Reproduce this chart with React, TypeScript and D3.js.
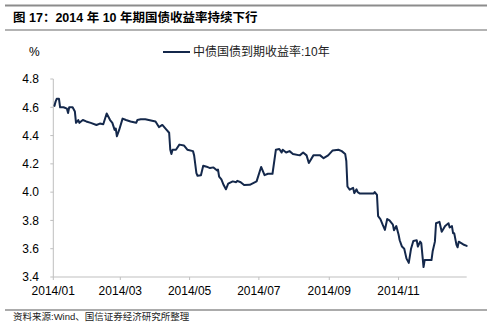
import React from "react";
import * as d3 from "d3";

const dates: string[] = [
  "2014-01-02","2014-01-03","2014-01-04","2014-01-06","2014-01-07","2014-01-10","2014-01-13","2014-01-14","2014-01-15","2014-01-18",
  "2014-01-20","2014-01-21","2014-01-23","2014-01-24","2014-01-27","2014-01-30","2014-02-03","2014-02-08","2014-02-11","2014-02-14",
  "2014-02-17","2014-02-20","2014-02-22","2014-02-24","2014-02-25","2014-02-26","2014-02-28","2014-03-03","2014-03-06","2014-03-10",
  "2014-03-15","2014-03-16","2014-03-19","2014-03-23","2014-03-26","2014-04-01","2014-04-04","2014-04-07","2014-04-10","2014-04-13",
  "2014-04-14","2014-04-15","2014-04-16","2014-04-19","2014-04-22","2014-04-26","2014-04-29","2014-05-04","2014-05-05","2014-05-07",
  "2014-05-08","2014-05-11","2014-05-13","2014-05-16","2014-05-19","2014-05-22","2014-05-25","2014-05-26","2014-05-27","2014-05-29",
  "2014-05-31","2014-06-02","2014-06-04","2014-06-08","2014-06-11","2014-06-12","2014-06-15","2014-06-18","2014-06-23","2014-06-29",
  "2014-07-03","2014-07-06","2014-07-09","2014-07-13","2014-07-16","2014-07-19","2014-07-21","2014-07-22","2014-07-25","2014-07-28",
  "2014-07-31","2014-08-06","2014-08-09","2014-08-12","2014-08-14","2014-08-18","2014-08-24","2014-08-27","2014-08-31","2014-09-04",
  "2014-09-09","2014-09-12","2014-09-15","2014-09-16","2014-09-17","2014-09-19","2014-09-22","2014-09-23","2014-09-25","2014-09-26",
  "2014-09-28","2014-10-02","2014-10-10","2014-10-11","2014-10-13","2014-10-14","2014-10-16","2014-10-18","2014-10-20","2014-10-22",
  "2014-10-24","2014-10-27","2014-10-28","2014-10-30","2014-11-01","2014-11-02","2014-11-04","2014-11-06","2014-11-08","2014-11-10",
  "2014-11-12","2014-11-14","2014-11-17","2014-11-18","2014-11-20","2014-11-21","2014-11-23","2014-11-24","2014-11-30","2014-12-01",
  "2014-12-03","2014-12-04","2014-12-07","2014-12-09","2014-12-12","2014-12-15","2014-12-16","2014-12-18","2014-12-19","2014-12-20",
  "2014-12-22","2014-12-23","2014-12-24","2014-12-28","2014-12-31"
];

const yields: number[] = [
  4.61,4.64,4.66,4.66,4.60,4.60,4.59,4.56,4.60,4.60,
  4.57,4.49,4.51,4.49,4.51,4.50,4.49,4.475,4.485,4.48,
  4.556,4.51,4.49,4.44,4.45,4.395,4.44,4.52,4.51,4.50,
  4.49,4.51,4.515,4.515,4.51,4.50,4.46,4.475,4.447,4.42,
  4.30,4.27,4.30,4.30,4.336,4.33,4.30,4.29,4.26,4.135,
  4.116,4.12,4.187,4.18,4.17,4.175,4.154,4.16,4.11,4.09,
  4.05,4.02,4.06,4.076,4.07,4.08,4.07,4.05,4.052,4.076,
  4.178,4.12,4.13,4.13,4.30,4.305,4.28,4.30,4.28,4.29,
  4.27,4.26,4.28,4.26,4.206,4.26,4.26,4.24,4.26,4.295,
  4.30,4.29,4.27,4.22,4.04,4.017,4.03,3.993,4.02,4.00,
  3.99,3.99,3.99,4.00,3.98,3.83,3.81,3.77,3.733,3.81,
  3.80,3.77,3.73,3.76,3.70,3.66,3.615,3.60,3.53,3.50,
  3.60,3.655,3.66,3.615,3.65,3.64,3.47,3.52,3.52,3.58,
  3.65,3.78,3.79,3.72,3.76,3.78,3.75,3.76,3.71,3.71,
  3.627,3.61,3.65,3.63,3.62
];

const yTicks: number[] = [3.4, 3.6, 3.8, 4.0, 4.2, 4.4, 4.6, 4.8];
const xTickLabels: string[] = ["2014/01", "2014/03", "2014/05", "2014/07", "2014/09", "2014/11"];
const xTickDates: string[] = ["2014-01-01", "2014-03-01", "2014-05-01", "2014-07-01", "2014-09-01", "2014-11-01"];

const title = "图 17：2014 年 10 年期国债收益率持续下行";
const legendLabel = "中债国债到期收益率:10年";
const unitLabel = "%";
const source = "资料来源:Wind、国信证券经济研究所整理";

const FONT = "'Liberation Sans', Arial, 'Noto Sans CJK SC', sans-serif";

export default function App() {
  const parse = d3.timeParse("%Y-%m-%d");
  const data = dates.map((d, i) => ({ date: parse(d) as Date, value: yields[i] }));

  const x = d3
    .scaleTime()
    .domain([parse("2014-01-01") as Date, parse("2014-12-31") as Date])
    .range([53.3, 466.7]);
  const y = d3.scaleLinear().domain([3.4, 4.8]).range([277, 79]);

  const line = d3
    .line<{ date: Date; value: number }>()
    .x((d) => x(d.date))
    .y((d) => y(d.value));

  const axisColor = "#bfbfbf";
  const lineColor = "#14284b";

  return (
    <svg
      width={499}
      height={328}
      style={{ position: "absolute", left: 0, top: 0, background: "#fff", display: "block" }}
      fontFamily={FONT}
    >
      <rect x={0} y={0} width={499} height={328} fill="#fff" />
      {/* header rules */}
      <line x1={5} x2={487} y1={5.5} y2={5.5} stroke="#8c8c8c" strokeWidth={2} />
      <text x={13} y={21.5} fontSize={12.5} fontWeight="bold" fill="#000">
        {title}
      </text>
      <line x1={5} x2={487} y1={30} y2={30} stroke="#9a9a9a" strokeWidth={1.5} />

      {/* unit label & legend */}
      <text x={29} y={56} fontSize={12} fill="#000">
        {unitLabel}
      </text>
      <line x1={163} x2={190} y1={52} y2={52} stroke={lineColor} strokeWidth={2} />
      <text x={193} y={56} fontSize={12} fill="#222">
        {legendLabel}
      </text>

      {/* axes */}
      <line x1={x.range()[0]} x2={x.range()[0]} y1={y(4.8)} y2={y(3.4)} stroke={axisColor} strokeWidth={1} />
      <line x1={x.range()[0]} x2={x.range()[1]} y1={y(3.4)} y2={y(3.4)} stroke={axisColor} strokeWidth={1} />
      {yTicks.map((t) => (
        <g key={t}>
          <line x1={x.range()[0] - 3} x2={x.range()[0]} y1={y(t)} y2={y(t)} stroke={axisColor} />
          <text x={39} y={y(t) + 4.3} fontSize={12} textAnchor="end" fill="#000">
            {t.toFixed(1)}
          </text>
        </g>
      ))}
      {xTickDates.map((d, i) => {
        const px = x(parse(d) as Date);
        return (
          <g key={d}>
            <line x1={px} x2={px} y1={y(3.4)} y2={y(3.4) + 3} stroke={axisColor} />
            <text x={px} y={295} fontSize={12} textAnchor="middle" fill="#000">
              {xTickLabels[i]}
            </text>
          </g>
        );
      })}

      {/* series */}
      <path
        d={line(data) || ""}
        fill="none"
        stroke={lineColor}
        strokeWidth={2}
        strokeLinejoin="round"
        strokeLinecap="round"
      />

      {/* footer */}
      <line x1={5} x2={487} y1={310} y2={310} stroke="#595959" strokeWidth={1.2} />
      <text x={13} y={320} fontSize={9.5} fill="#222">
        {source}
      </text>
    </svg>
  );
}
